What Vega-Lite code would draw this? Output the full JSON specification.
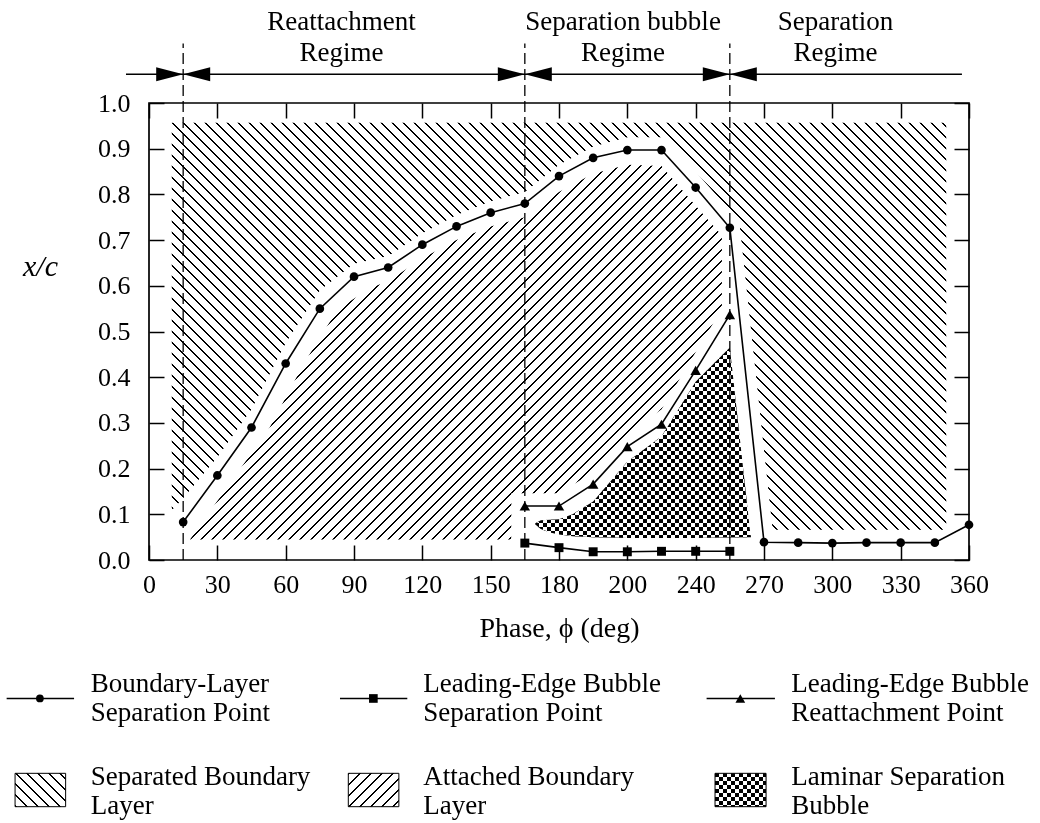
{
"$schema":"https://vega.github.io/schema/vega-lite/v6.json",
"width":820,"height":457,
"autosize":{"type":"none"},
"padding":{"left":149,"top":103,"right":71,"bottom":263},
"background":"white",
"config":{
 "font":"Liberation Serif",
 "view":{"stroke":"#000","strokeWidth":1.7},
 "axis":{"domain":false,"grid":false,"tickSize":-15,"tickWidth":1.5,"tickColor":"#000","labelFont":"Liberation Serif","labelFontSize":26,"labelColor":"#000","labelFlush":false,"labelOverlap":false,"titleFont":"Liberation Serif","titleFontSize":28,"titleFontWeight":"normal","titleColor":"#000"},
 "axisX":{"labelPadding":26},
 "axisY":{"labelPadding":34}
},
"datasets":{
 "sepA":[{"x":10,"lo":0.109,"hi":0.957},{"x":15,"lo":0.135,"hi":0.957},{"x":30,"lo":0.225,"hi":0.957},{"x":45,"lo":0.33,"hi":0.957},{"x":60,"lo":0.475,"hi":0.957},{"x":75,"lo":0.59,"hi":0.957},{"x":90,"lo":0.648,"hi":0.957},{"x":105,"lo":0.665,"hi":0.957},{"x":120,"lo":0.715,"hi":0.957},{"x":135,"lo":0.755,"hi":0.957},{"x":150,"lo":0.785,"hi":0.957},{"x":165,"lo":0.805,"hi":0.957},{"x":180,"lo":0.865,"hi":0.957},{"x":195,"lo":0.905,"hi":0.957},{"x":210,"lo":0.925,"hi":0.957},{"x":225,"lo":0.925,"hi":0.957},{"x":240,"lo":0.85,"hi":0.957},{"x":255,"lo":0.765,"hi":0.957},{"x":259.4,"lo":0.73,"hi":0.957},{"x":273.8,"lo":0.066,"hi":0.957},{"x":350,"lo":0.066,"hi":0.957}],
 "attB":[{"x":18,"lo":0.045,"hi":0.045},{"x":38,"lo":0.045,"hi":0.185},{"x":53,"lo":0.045,"hi":0.29},{"x":68,"lo":0.045,"hi":0.43},{"x":83,"lo":0.045,"hi":0.55},{"x":98,"lo":0.045,"hi":0.597},{"x":105,"lo":0.045,"hi":0.61},{"x":120,"lo":0.045,"hi":0.66},{"x":135,"lo":0.045,"hi":0.7},{"x":150,"lo":0.045,"hi":0.73},{"x":159,"lo":0.045,"hi":0.742},{"x":159.1,"lo":0.146,"hi":0.742},{"x":165,"lo":0.146,"hi":0.75},{"x":180,"lo":0.146,"hi":0.805},{"x":195,"lo":0.192,"hi":0.845},{"x":210,"lo":0.275,"hi":0.865},{"x":225,"lo":0.33,"hi":0.862},{"x":240,"lo":0.455,"hi":0.775},{"x":251.5,"lo":0.55,"hi":0.71}],
 "bub":[{"x":169.5,"lo":0.078,"hi":0.08},{"x":172,"lo":0.068,"hi":0.087},{"x":176,"lo":0.06,"hi":0.088},{"x":180,"lo":0.056,"hi":0.089},{"x":186,"lo":0.052,"hi":0.1},{"x":195,"lo":0.05,"hi":0.128},{"x":210,"lo":0.048,"hi":0.215},{"x":225,"lo":0.048,"hi":0.27},{"x":240,"lo":0.048,"hi":0.39},{"x":255,"lo":0.049,"hi":0.465},{"x":263.8,"lo":0.05,"hi":0.066},{"x":264.3,"lo":0.05,"hi":0.05}],
 "pts":[{"s":"bl","x":15,"y":0.083},{"s":"bl","x":30,"y":0.185},{"s":"bl","x":45,"y":0.29},{"s":"bl","x":60,"y":0.43},{"s":"bl","x":75,"y":0.55},{"s":"bl","x":90,"y":0.62},{"s":"bl","x":105,"y":0.64},{"s":"bl","x":120,"y":0.69},{"s":"bl","x":135,"y":0.73},{"s":"bl","x":150,"y":0.76},{"s":"bl","x":165,"y":0.78},{"s":"bl","x":180,"y":0.84},{"s":"bl","x":195,"y":0.88},{"s":"bl","x":210,"y":0.897},{"s":"bl","x":225,"y":0.897},{"s":"bl","x":240,"y":0.815},{"s":"bl","x":255,"y":0.727},{"s":"bl","x":270,"y":0.039},{"s":"bl","x":285,"y":0.038},{"s":"bl","x":300,"y":0.037},{"s":"bl","x":315,"y":0.038},{"s":"bl","x":330,"y":0.038},{"s":"bl","x":345,"y":0.038},{"s":"bl","x":360,"y":0.077},
  {"s":"les","x":165,"y":0.037},{"s":"les","x":180,"y":0.027},{"s":"les","x":195,"y":0.018},{"s":"les","x":210,"y":0.018},{"s":"les","x":225,"y":0.019},{"s":"les","x":240,"y":0.019},{"s":"les","x":255,"y":0.019},
  {"s":"ler","x":165,"y":0.118},{"s":"ler","x":180,"y":0.118},{"s":"ler","x":195,"y":0.166},{"s":"ler","x":210,"y":0.248},{"s":"ler","x":225,"y":0.297},{"s":"ler","x":240,"y":0.415},{"s":"ler","x":255,"y":0.537}],
 "dash":[{"x":15},{"x":165},{"x":255}],
 "regimes":[{"x":84.5,"y":1.178,"t":"Reattachment\nRegime"},{"x":208.1,"y":1.178,"t":"Separation bubble\nRegime"},{"x":301.4,"y":1.178,"t":"Separation\nRegime"}],
 "legLines":[{"x":-62.5,"x2":-32.9},{"x":83.85,"x2":113.4},{"x":244.8,"x2":274.8}],
 "legPts":[{"s":"bl","x":-47.9},{"s":"les","x":98.5},{"s":"ler","x":259.6}],
 "legText":[{"x":-25.6,"y":-0.2709,"t":"Boundary-Layer\nSeparation Point"},{"x":120.4,"y":-0.2709,"t":"Leading-Edge Bubble\nSeparation Point"},{"x":282,"y":-0.2709,"t":"Leading-Edge Bubble\nReattachment Point"},{"x":-25.6,"y":-0.4759,"t":"Separated Boundary\nLayer"},{"x":120.4,"y":-0.4759,"t":"Attached Boundary\nLayer"},{"x":282,"y":-0.4759,"t":"Laminar Separation\nBubble"}],
 "swA":[{"x":-58.8,"x2":-36.6,"y":-0.4668,"y2":-0.5398}],
 "swB":[{"x":87.5,"x2":109.7,"y":-0.4668,"y2":-0.5398}],
 "swC":[{"x":248.5,"x2":270.9,"y":-0.4668,"y2":-0.5398}]
},
"resolve":{"axis":{"x":"independent","y":"independent"}},
"layer":[
{"data":{"name":"sepA"},
 "mark":{"type":"area","fill":{"gradient":"linear","x1":0,"y1":1,"x2":1.391,"y2":0.2687,"stops":[
{"offset":0,"color":"#fff"},{"offset":0,"color":"#000"},{"offset":0.0014,"color":"#000"},{"offset":0.0014,"color":"#fff"},
{"offset":0.008,"color":"#fff"},{"offset":0.008,"color":"#000"},{"offset":0.0094,"color":"#000"},{"offset":0.0094,"color":"#fff"},
{"offset":0.016,"color":"#fff"},{"offset":0.016,"color":"#000"},{"offset":0.0174,"color":"#000"},{"offset":0.0174,"color":"#fff"},
{"offset":0.024,"color":"#fff"},{"offset":0.024,"color":"#000"},{"offset":0.0254,"color":"#000"},{"offset":0.0254,"color":"#fff"},
{"offset":0.032,"color":"#fff"},{"offset":0.032,"color":"#000"},{"offset":0.0334,"color":"#000"},{"offset":0.0334,"color":"#fff"},
{"offset":0.04,"color":"#fff"},{"offset":0.04,"color":"#000"},{"offset":0.0414,"color":"#000"},{"offset":0.0414,"color":"#fff"},
{"offset":0.048,"color":"#fff"},{"offset":0.048,"color":"#000"},{"offset":0.0494,"color":"#000"},{"offset":0.0494,"color":"#fff"},
{"offset":0.056,"color":"#fff"},{"offset":0.056,"color":"#000"},{"offset":0.0574,"color":"#000"},{"offset":0.0574,"color":"#fff"},
{"offset":0.064,"color":"#fff"},{"offset":0.064,"color":"#000"},{"offset":0.0654,"color":"#000"},{"offset":0.0654,"color":"#fff"},
{"offset":0.072,"color":"#fff"},{"offset":0.072,"color":"#000"},{"offset":0.0734,"color":"#000"},{"offset":0.0734,"color":"#fff"},
{"offset":0.08,"color":"#fff"},{"offset":0.08,"color":"#000"},{"offset":0.0814,"color":"#000"},{"offset":0.0814,"color":"#fff"},
{"offset":0.088,"color":"#fff"},{"offset":0.088,"color":"#000"},{"offset":0.0894,"color":"#000"},{"offset":0.0894,"color":"#fff"},
{"offset":0.096,"color":"#fff"},{"offset":0.096,"color":"#000"},{"offset":0.0974,"color":"#000"},{"offset":0.0974,"color":"#fff"},
{"offset":0.104,"color":"#fff"},{"offset":0.104,"color":"#000"},{"offset":0.1054,"color":"#000"},{"offset":0.1054,"color":"#fff"},
{"offset":0.112,"color":"#fff"},{"offset":0.112,"color":"#000"},{"offset":0.1134,"color":"#000"},{"offset":0.1134,"color":"#fff"},
{"offset":0.12,"color":"#fff"},{"offset":0.12,"color":"#000"},{"offset":0.1214,"color":"#000"},{"offset":0.1214,"color":"#fff"},
{"offset":0.128,"color":"#fff"},{"offset":0.128,"color":"#000"},{"offset":0.1294,"color":"#000"},{"offset":0.1294,"color":"#fff"},
{"offset":0.136,"color":"#fff"},{"offset":0.136,"color":"#000"},{"offset":0.1374,"color":"#000"},{"offset":0.1374,"color":"#fff"},
{"offset":0.144,"color":"#fff"},{"offset":0.144,"color":"#000"},{"offset":0.1454,"color":"#000"},{"offset":0.1454,"color":"#fff"},
{"offset":0.152,"color":"#fff"},{"offset":0.152,"color":"#000"},{"offset":0.1534,"color":"#000"},{"offset":0.1534,"color":"#fff"},
{"offset":0.16,"color":"#fff"},{"offset":0.16,"color":"#000"},{"offset":0.1614,"color":"#000"},{"offset":0.1614,"color":"#fff"},
{"offset":0.168,"color":"#fff"},{"offset":0.168,"color":"#000"},{"offset":0.1694,"color":"#000"},{"offset":0.1694,"color":"#fff"},
{"offset":0.176,"color":"#fff"},{"offset":0.176,"color":"#000"},{"offset":0.1774,"color":"#000"},{"offset":0.1774,"color":"#fff"},
{"offset":0.184,"color":"#fff"},{"offset":0.184,"color":"#000"},{"offset":0.1854,"color":"#000"},{"offset":0.1854,"color":"#fff"},
{"offset":0.192,"color":"#fff"},{"offset":0.192,"color":"#000"},{"offset":0.1934,"color":"#000"},{"offset":0.1934,"color":"#fff"},
{"offset":0.2,"color":"#fff"},{"offset":0.2,"color":"#000"},{"offset":0.2014,"color":"#000"},{"offset":0.2014,"color":"#fff"},
{"offset":0.208,"color":"#fff"},{"offset":0.208,"color":"#000"},{"offset":0.2094,"color":"#000"},{"offset":0.2094,"color":"#fff"},
{"offset":0.216,"color":"#fff"},{"offset":0.216,"color":"#000"},{"offset":0.2174,"color":"#000"},{"offset":0.2174,"color":"#fff"},
{"offset":0.224,"color":"#fff"},{"offset":0.224,"color":"#000"},{"offset":0.2254,"color":"#000"},{"offset":0.2254,"color":"#fff"},
{"offset":0.232,"color":"#fff"},{"offset":0.232,"color":"#000"},{"offset":0.2334,"color":"#000"},{"offset":0.2334,"color":"#fff"},
{"offset":0.24,"color":"#fff"},{"offset":0.24,"color":"#000"},{"offset":0.2414,"color":"#000"},{"offset":0.2414,"color":"#fff"},
{"offset":0.248,"color":"#fff"},{"offset":0.248,"color":"#000"},{"offset":0.2494,"color":"#000"},{"offset":0.2494,"color":"#fff"},
{"offset":0.256,"color":"#fff"},{"offset":0.256,"color":"#000"},{"offset":0.2574,"color":"#000"},{"offset":0.2574,"color":"#fff"},
{"offset":0.264,"color":"#fff"},{"offset":0.264,"color":"#000"},{"offset":0.2654,"color":"#000"},{"offset":0.2654,"color":"#fff"},
{"offset":0.272,"color":"#fff"},{"offset":0.272,"color":"#000"},{"offset":0.2734,"color":"#000"},{"offset":0.2734,"color":"#fff"},
{"offset":0.28,"color":"#fff"},{"offset":0.28,"color":"#000"},{"offset":0.2814,"color":"#000"},{"offset":0.2814,"color":"#fff"},
{"offset":0.288,"color":"#fff"},{"offset":0.288,"color":"#000"},{"offset":0.2894,"color":"#000"},{"offset":0.2894,"color":"#fff"},
{"offset":0.296,"color":"#fff"},{"offset":0.296,"color":"#000"},{"offset":0.2974,"color":"#000"},{"offset":0.2974,"color":"#fff"},
{"offset":0.304,"color":"#fff"},{"offset":0.304,"color":"#000"},{"offset":0.3054,"color":"#000"},{"offset":0.3054,"color":"#fff"},
{"offset":0.312,"color":"#fff"},{"offset":0.312,"color":"#000"},{"offset":0.3134,"color":"#000"},{"offset":0.3134,"color":"#fff"},
{"offset":0.32,"color":"#fff"},{"offset":0.32,"color":"#000"},{"offset":0.3214,"color":"#000"},{"offset":0.3214,"color":"#fff"},
{"offset":0.328,"color":"#fff"},{"offset":0.328,"color":"#000"},{"offset":0.3294,"color":"#000"},{"offset":0.3294,"color":"#fff"},
{"offset":0.336,"color":"#fff"},{"offset":0.336,"color":"#000"},{"offset":0.3374,"color":"#000"},{"offset":0.3374,"color":"#fff"},
{"offset":0.344,"color":"#fff"},{"offset":0.344,"color":"#000"},{"offset":0.3454,"color":"#000"},{"offset":0.3454,"color":"#fff"},
{"offset":0.352,"color":"#fff"},{"offset":0.352,"color":"#000"},{"offset":0.3534,"color":"#000"},{"offset":0.3534,"color":"#fff"},
{"offset":0.36,"color":"#fff"},{"offset":0.36,"color":"#000"},{"offset":0.3614,"color":"#000"},{"offset":0.3614,"color":"#fff"},
{"offset":0.368,"color":"#fff"},{"offset":0.368,"color":"#000"},{"offset":0.3694,"color":"#000"},{"offset":0.3694,"color":"#fff"},
{"offset":0.376,"color":"#fff"},{"offset":0.376,"color":"#000"},{"offset":0.3774,"color":"#000"},{"offset":0.3774,"color":"#fff"},
{"offset":0.384,"color":"#fff"},{"offset":0.384,"color":"#000"},{"offset":0.3854,"color":"#000"},{"offset":0.3854,"color":"#fff"},
{"offset":0.392,"color":"#fff"},{"offset":0.392,"color":"#000"},{"offset":0.3934,"color":"#000"},{"offset":0.3934,"color":"#fff"},
{"offset":0.4,"color":"#fff"},{"offset":0.4,"color":"#000"},{"offset":0.4014,"color":"#000"},{"offset":0.4014,"color":"#fff"},
{"offset":0.408,"color":"#fff"},{"offset":0.408,"color":"#000"},{"offset":0.4094,"color":"#000"},{"offset":0.4094,"color":"#fff"},
{"offset":0.416,"color":"#fff"},{"offset":0.416,"color":"#000"},{"offset":0.4174,"color":"#000"},{"offset":0.4174,"color":"#fff"},
{"offset":0.424,"color":"#fff"},{"offset":0.424,"color":"#000"},{"offset":0.4254,"color":"#000"},{"offset":0.4254,"color":"#fff"},
{"offset":0.432,"color":"#fff"},{"offset":0.432,"color":"#000"},{"offset":0.4334,"color":"#000"},{"offset":0.4334,"color":"#fff"},
{"offset":0.44,"color":"#fff"},{"offset":0.44,"color":"#000"},{"offset":0.4414,"color":"#000"},{"offset":0.4414,"color":"#fff"},
{"offset":0.448,"color":"#fff"},{"offset":0.448,"color":"#000"},{"offset":0.4494,"color":"#000"},{"offset":0.4494,"color":"#fff"},
{"offset":0.456,"color":"#fff"},{"offset":0.456,"color":"#000"},{"offset":0.4574,"color":"#000"},{"offset":0.4574,"color":"#fff"},
{"offset":0.464,"color":"#fff"},{"offset":0.464,"color":"#000"},{"offset":0.4654,"color":"#000"},{"offset":0.4654,"color":"#fff"},
{"offset":0.472,"color":"#fff"},{"offset":0.472,"color":"#000"},{"offset":0.4734,"color":"#000"},{"offset":0.4734,"color":"#fff"},
{"offset":0.48,"color":"#fff"},{"offset":0.48,"color":"#000"},{"offset":0.4814,"color":"#000"},{"offset":0.4814,"color":"#fff"},
{"offset":0.488,"color":"#fff"},{"offset":0.488,"color":"#000"},{"offset":0.4894,"color":"#000"},{"offset":0.4894,"color":"#fff"},
{"offset":0.496,"color":"#fff"},{"offset":0.496,"color":"#000"},{"offset":0.4974,"color":"#000"},{"offset":0.4974,"color":"#fff"},
{"offset":0.504,"color":"#fff"},{"offset":0.504,"color":"#000"},{"offset":0.5054,"color":"#000"},{"offset":0.5054,"color":"#fff"},
{"offset":0.512,"color":"#fff"},{"offset":0.512,"color":"#000"},{"offset":0.5134,"color":"#000"},{"offset":0.5134,"color":"#fff"},
{"offset":0.52,"color":"#fff"},{"offset":0.52,"color":"#000"},{"offset":0.5214,"color":"#000"},{"offset":0.5214,"color":"#fff"},
{"offset":0.528,"color":"#fff"},{"offset":0.528,"color":"#000"},{"offset":0.5294,"color":"#000"},{"offset":0.5294,"color":"#fff"},
{"offset":0.536,"color":"#fff"},{"offset":0.536,"color":"#000"},{"offset":0.5374,"color":"#000"},{"offset":0.5374,"color":"#fff"},
{"offset":0.544,"color":"#fff"},{"offset":0.544,"color":"#000"},{"offset":0.5454,"color":"#000"},{"offset":0.5454,"color":"#fff"},
{"offset":0.552,"color":"#fff"},{"offset":0.552,"color":"#000"},{"offset":0.5534,"color":"#000"},{"offset":0.5534,"color":"#fff"},
{"offset":0.56,"color":"#fff"},{"offset":0.56,"color":"#000"},{"offset":0.5614,"color":"#000"},{"offset":0.5614,"color":"#fff"},
{"offset":0.568,"color":"#fff"},{"offset":0.568,"color":"#000"},{"offset":0.5694,"color":"#000"},{"offset":0.5694,"color":"#fff"},
{"offset":0.576,"color":"#fff"},{"offset":0.576,"color":"#000"},{"offset":0.5774,"color":"#000"},{"offset":0.5774,"color":"#fff"},
{"offset":0.584,"color":"#fff"},{"offset":0.584,"color":"#000"},{"offset":0.5854,"color":"#000"},{"offset":0.5854,"color":"#fff"},
{"offset":0.592,"color":"#fff"},{"offset":0.592,"color":"#000"},{"offset":0.5934,"color":"#000"},{"offset":0.5934,"color":"#fff"},
{"offset":0.6,"color":"#fff"},{"offset":0.6,"color":"#000"},{"offset":0.6014,"color":"#000"},{"offset":0.6014,"color":"#fff"},
{"offset":0.608,"color":"#fff"},{"offset":0.608,"color":"#000"},{"offset":0.6094,"color":"#000"},{"offset":0.6094,"color":"#fff"},
{"offset":0.616,"color":"#fff"},{"offset":0.616,"color":"#000"},{"offset":0.6174,"color":"#000"},{"offset":0.6174,"color":"#fff"},
{"offset":0.624,"color":"#fff"},{"offset":0.624,"color":"#000"},{"offset":0.6254,"color":"#000"},{"offset":0.6254,"color":"#fff"},
{"offset":0.632,"color":"#fff"},{"offset":0.632,"color":"#000"},{"offset":0.6334,"color":"#000"},{"offset":0.6334,"color":"#fff"},
{"offset":0.64,"color":"#fff"},{"offset":0.64,"color":"#000"},{"offset":0.6414,"color":"#000"},{"offset":0.6414,"color":"#fff"},
{"offset":0.648,"color":"#fff"},{"offset":0.648,"color":"#000"},{"offset":0.6494,"color":"#000"},{"offset":0.6494,"color":"#fff"},
{"offset":0.656,"color":"#fff"},{"offset":0.656,"color":"#000"},{"offset":0.6574,"color":"#000"},{"offset":0.6574,"color":"#fff"},
{"offset":0.664,"color":"#fff"},{"offset":0.664,"color":"#000"},{"offset":0.6654,"color":"#000"},{"offset":0.6654,"color":"#fff"},
{"offset":0.672,"color":"#fff"},{"offset":0.672,"color":"#000"},{"offset":0.6734,"color":"#000"},{"offset":0.6734,"color":"#fff"},
{"offset":0.68,"color":"#fff"},{"offset":0.68,"color":"#000"},{"offset":0.6814,"color":"#000"},{"offset":0.6814,"color":"#fff"},
{"offset":0.688,"color":"#fff"},{"offset":0.688,"color":"#000"},{"offset":0.6894,"color":"#000"},{"offset":0.6894,"color":"#fff"},
{"offset":0.696,"color":"#fff"},{"offset":0.696,"color":"#000"},{"offset":0.6974,"color":"#000"},{"offset":0.6974,"color":"#fff"},
{"offset":0.704,"color":"#fff"},{"offset":0.704,"color":"#000"},{"offset":0.7054,"color":"#000"},{"offset":0.7054,"color":"#fff"},
{"offset":0.712,"color":"#fff"},{"offset":0.712,"color":"#000"},{"offset":0.7134,"color":"#000"},{"offset":0.7134,"color":"#fff"},
{"offset":0.72,"color":"#fff"},{"offset":0.72,"color":"#000"},{"offset":0.7214,"color":"#000"},{"offset":0.7214,"color":"#fff"},
{"offset":0.728,"color":"#fff"},{"offset":0.728,"color":"#000"},{"offset":0.7294,"color":"#000"},{"offset":0.7294,"color":"#fff"},
{"offset":0.736,"color":"#fff"},{"offset":0.736,"color":"#000"},{"offset":0.7374,"color":"#000"},{"offset":0.7374,"color":"#fff"},
{"offset":0.744,"color":"#fff"},{"offset":0.744,"color":"#000"},{"offset":0.7454,"color":"#000"},{"offset":0.7454,"color":"#fff"},
{"offset":0.752,"color":"#fff"},{"offset":0.752,"color":"#000"},{"offset":0.7534,"color":"#000"},{"offset":0.7534,"color":"#fff"},
{"offset":0.76,"color":"#fff"},{"offset":0.76,"color":"#000"},{"offset":0.7614,"color":"#000"},{"offset":0.7614,"color":"#fff"},
{"offset":0.768,"color":"#fff"},{"offset":0.768,"color":"#000"},{"offset":0.7694,"color":"#000"},{"offset":0.7694,"color":"#fff"},
{"offset":0.776,"color":"#fff"},{"offset":0.776,"color":"#000"},{"offset":0.7774,"color":"#000"},{"offset":0.7774,"color":"#fff"},
{"offset":0.784,"color":"#fff"},{"offset":0.784,"color":"#000"},{"offset":0.7854,"color":"#000"},{"offset":0.7854,"color":"#fff"},
{"offset":0.792,"color":"#fff"},{"offset":0.792,"color":"#000"},{"offset":0.7934,"color":"#000"},{"offset":0.7934,"color":"#fff"},
{"offset":0.8,"color":"#fff"},{"offset":0.8,"color":"#000"},{"offset":0.8014,"color":"#000"},{"offset":0.8014,"color":"#fff"},
{"offset":0.808,"color":"#fff"},{"offset":0.808,"color":"#000"},{"offset":0.8094,"color":"#000"},{"offset":0.8094,"color":"#fff"},
{"offset":0.816,"color":"#fff"},{"offset":0.816,"color":"#000"},{"offset":0.8174,"color":"#000"},{"offset":0.8174,"color":"#fff"},
{"offset":0.824,"color":"#fff"},{"offset":0.824,"color":"#000"},{"offset":0.8254,"color":"#000"},{"offset":0.8254,"color":"#fff"},
{"offset":0.832,"color":"#fff"},{"offset":0.832,"color":"#000"},{"offset":0.8334,"color":"#000"},{"offset":0.8334,"color":"#fff"},
{"offset":0.84,"color":"#fff"},{"offset":0.84,"color":"#000"},{"offset":0.8414,"color":"#000"},{"offset":0.8414,"color":"#fff"},
{"offset":0.848,"color":"#fff"},{"offset":0.848,"color":"#000"},{"offset":0.8494,"color":"#000"},{"offset":0.8494,"color":"#fff"},
{"offset":0.856,"color":"#fff"},{"offset":0.856,"color":"#000"},{"offset":0.8574,"color":"#000"},{"offset":0.8574,"color":"#fff"}
 ]}},
 "encoding":{
  "x":{"field":"x","type":"quantitative","scale":{"domain":[0,360],"nice":false,"zero":false},
   "axis":{"orient":"bottom","values":[0,30,60,90,120,150,180,210,240,270,300,330,360],"labelExpr":"datum.value == 210 ? '200' : datum.label","title":"Phase, ϕ (deg)","titleY":68,"titleBaseline":"middle"}},
  "y":{"field":"lo","type":"quantitative","scale":{"domain":[0,1],"nice":false,"zero":false},
   "axis":{"orient":"left","values":[0,0.1,0.2,0.3,0.4,0.5,0.6,0.7,0.8,0.9,1],"format":".1f","title":"x/c","titleAngle":0,"titleFontStyle":"italic","titleFontSize":30,"titleX":-109,"titleY":163,"titleAlign":"center","titleBaseline":"middle"}},
  "y2":{"field":"hi"}
 }},
{"data":{"name":"attB"},
 "mark":{"type":"area","fill":{"gradient":"linear","x1":0,"y1":0,"x2":1.3822,"y2":0.9738,"stops":[
{"offset":0,"color":"#fff"},{"offset":0,"color":"#000"},{"offset":0.0017,"color":"#000"},{"offset":0.0017,"color":"#fff"},
{"offset":0.01,"color":"#fff"},{"offset":0.01,"color":"#000"},{"offset":0.0117,"color":"#000"},{"offset":0.0117,"color":"#fff"},
{"offset":0.02,"color":"#fff"},{"offset":0.02,"color":"#000"},{"offset":0.0217,"color":"#000"},{"offset":0.0217,"color":"#fff"},
{"offset":0.03,"color":"#fff"},{"offset":0.03,"color":"#000"},{"offset":0.0317,"color":"#000"},{"offset":0.0317,"color":"#fff"},
{"offset":0.04,"color":"#fff"},{"offset":0.04,"color":"#000"},{"offset":0.0417,"color":"#000"},{"offset":0.0417,"color":"#fff"},
{"offset":0.05,"color":"#fff"},{"offset":0.05,"color":"#000"},{"offset":0.0517,"color":"#000"},{"offset":0.0517,"color":"#fff"},
{"offset":0.06,"color":"#fff"},{"offset":0.06,"color":"#000"},{"offset":0.0617,"color":"#000"},{"offset":0.0617,"color":"#fff"},
{"offset":0.07,"color":"#fff"},{"offset":0.07,"color":"#000"},{"offset":0.0717,"color":"#000"},{"offset":0.0717,"color":"#fff"},
{"offset":0.08,"color":"#fff"},{"offset":0.08,"color":"#000"},{"offset":0.0817,"color":"#000"},{"offset":0.0817,"color":"#fff"},
{"offset":0.09,"color":"#fff"},{"offset":0.09,"color":"#000"},{"offset":0.0917,"color":"#000"},{"offset":0.0917,"color":"#fff"},
{"offset":0.1,"color":"#fff"},{"offset":0.1,"color":"#000"},{"offset":0.1017,"color":"#000"},{"offset":0.1017,"color":"#fff"},
{"offset":0.11,"color":"#fff"},{"offset":0.11,"color":"#000"},{"offset":0.1117,"color":"#000"},{"offset":0.1117,"color":"#fff"},
{"offset":0.12,"color":"#fff"},{"offset":0.12,"color":"#000"},{"offset":0.1217,"color":"#000"},{"offset":0.1217,"color":"#fff"},
{"offset":0.13,"color":"#fff"},{"offset":0.13,"color":"#000"},{"offset":0.1317,"color":"#000"},{"offset":0.1317,"color":"#fff"},
{"offset":0.14,"color":"#fff"},{"offset":0.14,"color":"#000"},{"offset":0.1417,"color":"#000"},{"offset":0.1417,"color":"#fff"},
{"offset":0.15,"color":"#fff"},{"offset":0.15,"color":"#000"},{"offset":0.1517,"color":"#000"},{"offset":0.1517,"color":"#fff"},
{"offset":0.16,"color":"#fff"},{"offset":0.16,"color":"#000"},{"offset":0.1617,"color":"#000"},{"offset":0.1617,"color":"#fff"},
{"offset":0.17,"color":"#fff"},{"offset":0.17,"color":"#000"},{"offset":0.1717,"color":"#000"},{"offset":0.1717,"color":"#fff"},
{"offset":0.18,"color":"#fff"},{"offset":0.18,"color":"#000"},{"offset":0.1817,"color":"#000"},{"offset":0.1817,"color":"#fff"},
{"offset":0.19,"color":"#fff"},{"offset":0.19,"color":"#000"},{"offset":0.1917,"color":"#000"},{"offset":0.1917,"color":"#fff"},
{"offset":0.2,"color":"#fff"},{"offset":0.2,"color":"#000"},{"offset":0.2017,"color":"#000"},{"offset":0.2017,"color":"#fff"},
{"offset":0.21,"color":"#fff"},{"offset":0.21,"color":"#000"},{"offset":0.2117,"color":"#000"},{"offset":0.2117,"color":"#fff"},
{"offset":0.22,"color":"#fff"},{"offset":0.22,"color":"#000"},{"offset":0.2217,"color":"#000"},{"offset":0.2217,"color":"#fff"},
{"offset":0.23,"color":"#fff"},{"offset":0.23,"color":"#000"},{"offset":0.2317,"color":"#000"},{"offset":0.2317,"color":"#fff"},
{"offset":0.24,"color":"#fff"},{"offset":0.24,"color":"#000"},{"offset":0.2417,"color":"#000"},{"offset":0.2417,"color":"#fff"},
{"offset":0.25,"color":"#fff"},{"offset":0.25,"color":"#000"},{"offset":0.2517,"color":"#000"},{"offset":0.2517,"color":"#fff"},
{"offset":0.26,"color":"#fff"},{"offset":0.26,"color":"#000"},{"offset":0.2617,"color":"#000"},{"offset":0.2617,"color":"#fff"},
{"offset":0.27,"color":"#fff"},{"offset":0.27,"color":"#000"},{"offset":0.2717,"color":"#000"},{"offset":0.2717,"color":"#fff"},
{"offset":0.28,"color":"#fff"},{"offset":0.28,"color":"#000"},{"offset":0.2817,"color":"#000"},{"offset":0.2817,"color":"#fff"},
{"offset":0.29,"color":"#fff"},{"offset":0.29,"color":"#000"},{"offset":0.2917,"color":"#000"},{"offset":0.2917,"color":"#fff"},
{"offset":0.3,"color":"#fff"},{"offset":0.3,"color":"#000"},{"offset":0.3017,"color":"#000"},{"offset":0.3017,"color":"#fff"},
{"offset":0.31,"color":"#fff"},{"offset":0.31,"color":"#000"},{"offset":0.3117,"color":"#000"},{"offset":0.3117,"color":"#fff"},
{"offset":0.32,"color":"#fff"},{"offset":0.32,"color":"#000"},{"offset":0.3217,"color":"#000"},{"offset":0.3217,"color":"#fff"},
{"offset":0.33,"color":"#fff"},{"offset":0.33,"color":"#000"},{"offset":0.3317,"color":"#000"},{"offset":0.3317,"color":"#fff"},
{"offset":0.34,"color":"#fff"},{"offset":0.34,"color":"#000"},{"offset":0.3417,"color":"#000"},{"offset":0.3417,"color":"#fff"},
{"offset":0.35,"color":"#fff"},{"offset":0.35,"color":"#000"},{"offset":0.3517,"color":"#000"},{"offset":0.3517,"color":"#fff"},
{"offset":0.36,"color":"#fff"},{"offset":0.36,"color":"#000"},{"offset":0.3617,"color":"#000"},{"offset":0.3617,"color":"#fff"},
{"offset":0.37,"color":"#fff"},{"offset":0.37,"color":"#000"},{"offset":0.3717,"color":"#000"},{"offset":0.3717,"color":"#fff"},
{"offset":0.38,"color":"#fff"},{"offset":0.38,"color":"#000"},{"offset":0.3817,"color":"#000"},{"offset":0.3817,"color":"#fff"},
{"offset":0.39,"color":"#fff"},{"offset":0.39,"color":"#000"},{"offset":0.3917,"color":"#000"},{"offset":0.3917,"color":"#fff"},
{"offset":0.4,"color":"#fff"},{"offset":0.4,"color":"#000"},{"offset":0.4017,"color":"#000"},{"offset":0.4017,"color":"#fff"},
{"offset":0.41,"color":"#fff"},{"offset":0.41,"color":"#000"},{"offset":0.4117,"color":"#000"},{"offset":0.4117,"color":"#fff"},
{"offset":0.42,"color":"#fff"},{"offset":0.42,"color":"#000"},{"offset":0.4217,"color":"#000"},{"offset":0.4217,"color":"#fff"},
{"offset":0.43,"color":"#fff"},{"offset":0.43,"color":"#000"},{"offset":0.4317,"color":"#000"},{"offset":0.4317,"color":"#fff"},
{"offset":0.44,"color":"#fff"},{"offset":0.44,"color":"#000"},{"offset":0.4417,"color":"#000"},{"offset":0.4417,"color":"#fff"},
{"offset":0.45,"color":"#fff"},{"offset":0.45,"color":"#000"},{"offset":0.4517,"color":"#000"},{"offset":0.4517,"color":"#fff"},
{"offset":0.46,"color":"#fff"},{"offset":0.46,"color":"#000"},{"offset":0.4617,"color":"#000"},{"offset":0.4617,"color":"#fff"},
{"offset":0.47,"color":"#fff"},{"offset":0.47,"color":"#000"},{"offset":0.4717,"color":"#000"},{"offset":0.4717,"color":"#fff"},
{"offset":0.48,"color":"#fff"},{"offset":0.48,"color":"#000"},{"offset":0.4817,"color":"#000"},{"offset":0.4817,"color":"#fff"},
{"offset":0.49,"color":"#fff"},{"offset":0.49,"color":"#000"},{"offset":0.4917,"color":"#000"},{"offset":0.4917,"color":"#fff"},
{"offset":0.5,"color":"#fff"},{"offset":0.5,"color":"#000"},{"offset":0.5017,"color":"#000"},{"offset":0.5017,"color":"#fff"},
{"offset":0.51,"color":"#fff"},{"offset":0.51,"color":"#000"},{"offset":0.5117,"color":"#000"},{"offset":0.5117,"color":"#fff"},
{"offset":0.52,"color":"#fff"},{"offset":0.52,"color":"#000"},{"offset":0.5217,"color":"#000"},{"offset":0.5217,"color":"#fff"},
{"offset":0.53,"color":"#fff"},{"offset":0.53,"color":"#000"},{"offset":0.5317,"color":"#000"},{"offset":0.5317,"color":"#fff"},
{"offset":0.54,"color":"#fff"},{"offset":0.54,"color":"#000"},{"offset":0.5417,"color":"#000"},{"offset":0.5417,"color":"#fff"},
{"offset":0.55,"color":"#fff"},{"offset":0.55,"color":"#000"},{"offset":0.5517,"color":"#000"},{"offset":0.5517,"color":"#fff"},
{"offset":0.56,"color":"#fff"},{"offset":0.56,"color":"#000"},{"offset":0.5617,"color":"#000"},{"offset":0.5617,"color":"#fff"},
{"offset":0.57,"color":"#fff"},{"offset":0.57,"color":"#000"},{"offset":0.5717,"color":"#000"},{"offset":0.5717,"color":"#fff"},
{"offset":0.58,"color":"#fff"},{"offset":0.58,"color":"#000"},{"offset":0.5817,"color":"#000"},{"offset":0.5817,"color":"#fff"},
{"offset":0.59,"color":"#fff"},{"offset":0.59,"color":"#000"},{"offset":0.5917,"color":"#000"},{"offset":0.5917,"color":"#fff"},
{"offset":0.6,"color":"#fff"},{"offset":0.6,"color":"#000"},{"offset":0.6017,"color":"#000"},{"offset":0.6017,"color":"#fff"},
{"offset":0.61,"color":"#fff"},{"offset":0.61,"color":"#000"},{"offset":0.6117,"color":"#000"},{"offset":0.6117,"color":"#fff"},
{"offset":0.62,"color":"#fff"},{"offset":0.62,"color":"#000"},{"offset":0.6217,"color":"#000"},{"offset":0.6217,"color":"#fff"},
{"offset":0.63,"color":"#fff"},{"offset":0.63,"color":"#000"},{"offset":0.6317,"color":"#000"},{"offset":0.6317,"color":"#fff"},
{"offset":0.64,"color":"#fff"},{"offset":0.64,"color":"#000"},{"offset":0.6417,"color":"#000"},{"offset":0.6417,"color":"#fff"},
{"offset":0.65,"color":"#fff"},{"offset":0.65,"color":"#000"},{"offset":0.6517,"color":"#000"},{"offset":0.6517,"color":"#fff"},
{"offset":0.66,"color":"#fff"},{"offset":0.66,"color":"#000"},{"offset":0.6617,"color":"#000"},{"offset":0.6617,"color":"#fff"},
{"offset":0.67,"color":"#fff"},{"offset":0.67,"color":"#000"},{"offset":0.6717,"color":"#000"},{"offset":0.6717,"color":"#fff"},
{"offset":0.68,"color":"#fff"},{"offset":0.68,"color":"#000"},{"offset":0.6817,"color":"#000"},{"offset":0.6817,"color":"#fff"},
{"offset":0.69,"color":"#fff"},{"offset":0.69,"color":"#000"},{"offset":0.6917,"color":"#000"},{"offset":0.6917,"color":"#fff"},
{"offset":0.7,"color":"#fff"},{"offset":0.7,"color":"#000"},{"offset":0.7017,"color":"#000"},{"offset":0.7017,"color":"#fff"},
{"offset":0.71,"color":"#fff"},{"offset":0.71,"color":"#000"},{"offset":0.7117,"color":"#000"},{"offset":0.7117,"color":"#fff"},
{"offset":0.72,"color":"#fff"},{"offset":0.72,"color":"#000"},{"offset":0.7217,"color":"#000"},{"offset":0.7217,"color":"#fff"},
{"offset":0.73,"color":"#fff"},{"offset":0.73,"color":"#000"},{"offset":0.7317,"color":"#000"},{"offset":0.7317,"color":"#fff"},
{"offset":0.74,"color":"#fff"},{"offset":0.74,"color":"#000"},{"offset":0.7417,"color":"#000"},{"offset":0.7417,"color":"#fff"},
{"offset":0.75,"color":"#fff"},{"offset":0.75,"color":"#000"},{"offset":0.7517,"color":"#000"},{"offset":0.7517,"color":"#fff"},
{"offset":0.76,"color":"#fff"},{"offset":0.76,"color":"#000"},{"offset":0.7617,"color":"#000"},{"offset":0.7617,"color":"#fff"},
{"offset":0.77,"color":"#fff"},{"offset":0.77,"color":"#000"},{"offset":0.7717,"color":"#000"},{"offset":0.7717,"color":"#fff"},
{"offset":0.78,"color":"#fff"},{"offset":0.78,"color":"#000"},{"offset":0.7817,"color":"#000"},{"offset":0.7817,"color":"#fff"},
{"offset":0.79,"color":"#fff"},{"offset":0.79,"color":"#000"},{"offset":0.7917,"color":"#000"},{"offset":0.7917,"color":"#fff"},
{"offset":0.8,"color":"#fff"},{"offset":0.8,"color":"#000"},{"offset":0.8017,"color":"#000"},{"offset":0.8017,"color":"#fff"},
{"offset":0.81,"color":"#fff"},{"offset":0.81,"color":"#000"},{"offset":0.8117,"color":"#000"},{"offset":0.8117,"color":"#fff"},
{"offset":0.82,"color":"#fff"},{"offset":0.82,"color":"#000"},{"offset":0.8217,"color":"#000"},{"offset":0.8217,"color":"#fff"}
 ]}},
 "encoding":{
  "x":{"field":"x","type":"quantitative","scale":{"domain":[0,360],"nice":false,"zero":false},"axis":null},
  "y":{"field":"lo","type":"quantitative","scale":{"domain":[0,1],"nice":false,"zero":false},"axis":null},
  "y2":{"field":"hi"}
 }},
{"data":{"name":"bub"},
 "mark":{"type":"area","fill":{"gradient":"linear","x1":0,"y1":0,"x2":1.482,"y2":0,"stops":[
{"offset":0,"color":"#000"},{"offset":0.0125,"color":"#000"},{"offset":0.0125,"color":"#fff"},{"offset":0.025,"color":"#fff"},
{"offset":0.025,"color":"#000"},{"offset":0.0375,"color":"#000"},{"offset":0.0375,"color":"#fff"},{"offset":0.05,"color":"#fff"},
{"offset":0.05,"color":"#000"},{"offset":0.0625,"color":"#000"},{"offset":0.0625,"color":"#fff"},{"offset":0.075,"color":"#fff"},
{"offset":0.075,"color":"#000"},{"offset":0.0875,"color":"#000"},{"offset":0.0875,"color":"#fff"},{"offset":0.1,"color":"#fff"},
{"offset":0.1,"color":"#000"},{"offset":0.1125,"color":"#000"},{"offset":0.1125,"color":"#fff"},{"offset":0.125,"color":"#fff"},
{"offset":0.125,"color":"#000"},{"offset":0.1375,"color":"#000"},{"offset":0.1375,"color":"#fff"},{"offset":0.15,"color":"#fff"},
{"offset":0.15,"color":"#000"},{"offset":0.1625,"color":"#000"},{"offset":0.1625,"color":"#fff"},{"offset":0.175,"color":"#fff"},
{"offset":0.175,"color":"#000"},{"offset":0.1875,"color":"#000"},{"offset":0.1875,"color":"#fff"},{"offset":0.2,"color":"#fff"},
{"offset":0.2,"color":"#000"},{"offset":0.2125,"color":"#000"},{"offset":0.2125,"color":"#fff"},{"offset":0.225,"color":"#fff"},
{"offset":0.225,"color":"#000"},{"offset":0.2375,"color":"#000"},{"offset":0.2375,"color":"#fff"},{"offset":0.25,"color":"#fff"},
{"offset":0.25,"color":"#000"},{"offset":0.2625,"color":"#000"},{"offset":0.2625,"color":"#fff"},{"offset":0.275,"color":"#fff"},
{"offset":0.275,"color":"#000"},{"offset":0.2875,"color":"#000"},{"offset":0.2875,"color":"#fff"},{"offset":0.3,"color":"#fff"},
{"offset":0.3,"color":"#000"},{"offset":0.3125,"color":"#000"},{"offset":0.3125,"color":"#fff"},{"offset":0.325,"color":"#fff"},
{"offset":0.325,"color":"#000"},{"offset":0.3375,"color":"#000"},{"offset":0.3375,"color":"#fff"},{"offset":0.35,"color":"#fff"},
{"offset":0.35,"color":"#000"},{"offset":0.3625,"color":"#000"},{"offset":0.3625,"color":"#fff"},{"offset":0.375,"color":"#fff"},
{"offset":0.375,"color":"#000"},{"offset":0.3875,"color":"#000"},{"offset":0.3875,"color":"#fff"},{"offset":0.4,"color":"#fff"},
{"offset":0.4,"color":"#000"},{"offset":0.4125,"color":"#000"},{"offset":0.4125,"color":"#fff"},{"offset":0.425,"color":"#fff"},
{"offset":0.425,"color":"#000"},{"offset":0.4375,"color":"#000"},{"offset":0.4375,"color":"#fff"},{"offset":0.45,"color":"#fff"},
{"offset":0.45,"color":"#000"},{"offset":0.4625,"color":"#000"},{"offset":0.4625,"color":"#fff"},{"offset":0.475,"color":"#fff"},
{"offset":0.475,"color":"#000"},{"offset":0.4875,"color":"#000"},{"offset":0.4875,"color":"#fff"},{"offset":0.5,"color":"#fff"},
{"offset":0.5,"color":"#000"},{"offset":0.5125,"color":"#000"},{"offset":0.5125,"color":"#fff"},{"offset":0.525,"color":"#fff"},
{"offset":0.525,"color":"#000"},{"offset":0.5375,"color":"#000"},{"offset":0.5375,"color":"#fff"},{"offset":0.55,"color":"#fff"},
{"offset":0.55,"color":"#000"},{"offset":0.5625,"color":"#000"},{"offset":0.5625,"color":"#fff"},{"offset":0.575,"color":"#fff"},
{"offset":0.575,"color":"#000"},{"offset":0.5875,"color":"#000"},{"offset":0.5875,"color":"#fff"},{"offset":0.6,"color":"#fff"},
{"offset":0.6,"color":"#000"},{"offset":0.6125,"color":"#000"},{"offset":0.6125,"color":"#fff"},{"offset":0.625,"color":"#fff"},
{"offset":0.625,"color":"#000"},{"offset":0.6375,"color":"#000"},{"offset":0.6375,"color":"#fff"},{"offset":0.65,"color":"#fff"},
{"offset":0.65,"color":"#000"},{"offset":0.6625,"color":"#000"},{"offset":0.6625,"color":"#fff"},{"offset":0.675,"color":"#fff"}
 ]}},
 "encoding":{
  "x":{"field":"x","type":"quantitative","scale":{"domain":[0,360],"nice":false,"zero":false},"axis":null},
  "y":{"field":"lo","type":"quantitative","scale":{"domain":[0,1],"nice":false,"zero":false},"axis":null},
  "y2":{"field":"hi"}
 }},
{"data":{"name":"bub"},
 "mark":{"type":"area","blend":"difference","fill":{"gradient":"linear","x1":0,"y1":0,"x2":0,"y2":1.6792,"stops":[
{"offset":0,"color":"#000"},{"offset":0.0125,"color":"#000"},{"offset":0.0125,"color":"#fff"},{"offset":0.025,"color":"#fff"},
{"offset":0.025,"color":"#000"},{"offset":0.0375,"color":"#000"},{"offset":0.0375,"color":"#fff"},{"offset":0.05,"color":"#fff"},
{"offset":0.05,"color":"#000"},{"offset":0.0625,"color":"#000"},{"offset":0.0625,"color":"#fff"},{"offset":0.075,"color":"#fff"},
{"offset":0.075,"color":"#000"},{"offset":0.0875,"color":"#000"},{"offset":0.0875,"color":"#fff"},{"offset":0.1,"color":"#fff"},
{"offset":0.1,"color":"#000"},{"offset":0.1125,"color":"#000"},{"offset":0.1125,"color":"#fff"},{"offset":0.125,"color":"#fff"},
{"offset":0.125,"color":"#000"},{"offset":0.1375,"color":"#000"},{"offset":0.1375,"color":"#fff"},{"offset":0.15,"color":"#fff"},
{"offset":0.15,"color":"#000"},{"offset":0.1625,"color":"#000"},{"offset":0.1625,"color":"#fff"},{"offset":0.175,"color":"#fff"},
{"offset":0.175,"color":"#000"},{"offset":0.1875,"color":"#000"},{"offset":0.1875,"color":"#fff"},{"offset":0.2,"color":"#fff"},
{"offset":0.2,"color":"#000"},{"offset":0.2125,"color":"#000"},{"offset":0.2125,"color":"#fff"},{"offset":0.225,"color":"#fff"},
{"offset":0.225,"color":"#000"},{"offset":0.2375,"color":"#000"},{"offset":0.2375,"color":"#fff"},{"offset":0.25,"color":"#fff"},
{"offset":0.25,"color":"#000"},{"offset":0.2625,"color":"#000"},{"offset":0.2625,"color":"#fff"},{"offset":0.275,"color":"#fff"},
{"offset":0.275,"color":"#000"},{"offset":0.2875,"color":"#000"},{"offset":0.2875,"color":"#fff"},{"offset":0.3,"color":"#fff"},
{"offset":0.3,"color":"#000"},{"offset":0.3125,"color":"#000"},{"offset":0.3125,"color":"#fff"},{"offset":0.325,"color":"#fff"},
{"offset":0.325,"color":"#000"},{"offset":0.3375,"color":"#000"},{"offset":0.3375,"color":"#fff"},{"offset":0.35,"color":"#fff"},
{"offset":0.35,"color":"#000"},{"offset":0.3625,"color":"#000"},{"offset":0.3625,"color":"#fff"},{"offset":0.375,"color":"#fff"},
{"offset":0.375,"color":"#000"},{"offset":0.3875,"color":"#000"},{"offset":0.3875,"color":"#fff"},{"offset":0.4,"color":"#fff"},
{"offset":0.4,"color":"#000"},{"offset":0.4125,"color":"#000"},{"offset":0.4125,"color":"#fff"},{"offset":0.425,"color":"#fff"},
{"offset":0.425,"color":"#000"},{"offset":0.4375,"color":"#000"},{"offset":0.4375,"color":"#fff"},{"offset":0.45,"color":"#fff"},
{"offset":0.45,"color":"#000"},{"offset":0.4625,"color":"#000"},{"offset":0.4625,"color":"#fff"},{"offset":0.475,"color":"#fff"},
{"offset":0.475,"color":"#000"},{"offset":0.4875,"color":"#000"},{"offset":0.4875,"color":"#fff"},{"offset":0.5,"color":"#fff"},
{"offset":0.5,"color":"#000"},{"offset":0.5125,"color":"#000"},{"offset":0.5125,"color":"#fff"},{"offset":0.525,"color":"#fff"},
{"offset":0.525,"color":"#000"},{"offset":0.5375,"color":"#000"},{"offset":0.5375,"color":"#fff"},{"offset":0.55,"color":"#fff"},
{"offset":0.55,"color":"#000"},{"offset":0.5625,"color":"#000"},{"offset":0.5625,"color":"#fff"},{"offset":0.575,"color":"#fff"},
{"offset":0.575,"color":"#000"},{"offset":0.5875,"color":"#000"},{"offset":0.5875,"color":"#fff"},{"offset":0.6,"color":"#fff"}
 ]}},
 "encoding":{
  "x":{"field":"x","type":"quantitative","scale":{"domain":[0,360],"nice":false,"zero":false},"axis":null},
  "y":{"field":"lo","type":"quantitative","scale":{"domain":[0,1],"nice":false,"zero":false},"axis":null},
  "y2":{"field":"hi"}
 }},
{"data":{"name":"dash"},
 "mark":{"type":"rule","color":"#000","strokeWidth":1.3,"strokeDash":[11,5]},
 "encoding":{
  "x":{"field":"x","type":"quantitative","scale":{"domain":[0,360],"nice":false,"zero":false},"axis":null},
  "y":{"datum":0,"scale":{"domain":[0,1],"nice":false,"zero":false},"axis":null},
  "y2":{"datum":1.13}
 }},
{"data":{"name":"pts"},
 "mark":{"type":"line","color":"#000","strokeWidth":1.6},
 "encoding":{
  "x":{"field":"x","type":"quantitative","scale":{"domain":[0,360],"nice":false,"zero":false},
   "axis":{"orient":"top","values":[0,30,60,90,120,150,180,210,240,270,300,330,360],"labels":false,"title":null}},
  "y":{"field":"y","type":"quantitative","scale":{"domain":[0,1],"nice":false,"zero":false},
   "axis":{"orient":"right","values":[0,0.1,0.2,0.3,0.4,0.5,0.6,0.7,0.8,0.9,1],"labels":false,"title":null}},
  "detail":{"field":"s","type":"nominal"}
 }},
{"data":{"name":"pts"},
 "transform":[{"filter":"datum.s == 'bl'"}],
 "mark":{"type":"point","shape":"circle","filled":true,"color":"#000","opacity":1,"size":75},
 "encoding":{
  "x":{"field":"x","type":"quantitative","scale":{"domain":[0,360],"nice":false,"zero":false},"axis":null},
  "y":{"field":"y","type":"quantitative","scale":{"domain":[0,1],"nice":false,"zero":false},"axis":null}
 }},
{"data":{"name":"pts"},
 "transform":[{"filter":"datum.s == 'les'"}],
 "mark":{"type":"point","shape":"square","filled":true,"color":"#000","opacity":1,"size":80},
 "encoding":{
  "x":{"field":"x","type":"quantitative","scale":{"domain":[0,360],"nice":false,"zero":false},"axis":null},
  "y":{"field":"y","type":"quantitative","scale":{"domain":[0,1],"nice":false,"zero":false},"axis":null}
 }},
{"data":{"name":"pts"},
 "transform":[{"filter":"datum.s == 'ler'"}],
 "mark":{"type":"point","shape":"triangle-up","filled":true,"color":"#000","opacity":1,"size":110},
 "encoding":{
  "x":{"field":"x","type":"quantitative","scale":{"domain":[0,360],"nice":false,"zero":false},"axis":null},
  "y":{"field":"y","type":"quantitative","scale":{"domain":[0,1],"nice":false,"zero":false},"axis":null}
 }},
{"data":{"values":[{}]},
 "mark":{"type":"rule","color":"#000","strokeWidth":1.5},
 "encoding":{
  "x":{"datum":-10.1,"scale":{"domain":[0,360],"nice":false,"zero":false},"axis":null},
  "x2":{"datum":356.9},
  "y":{"datum":1.0628,"scale":{"domain":[0,1],"nice":false,"zero":false},"axis":null}
 }},
{"data":{"name":"dash"},
 "mark":{"type":"point","shape":"M-2,-0.52L0,0L-2,0.52Z","filled":true,"color":"#000","opacity":1,"size":729,"strokeWidth":0},
 "encoding":{
  "x":{"field":"x","type":"quantitative","scale":{"domain":[0,360],"nice":false,"zero":false},"axis":null},
  "y":{"datum":1.0628,"scale":{"domain":[0,1],"nice":false,"zero":false},"axis":null}
 }},
{"data":{"name":"dash"},
 "mark":{"type":"point","shape":"M2,-0.52L0,0L2,0.52Z","filled":true,"color":"#000","opacity":1,"size":729,"strokeWidth":0},
 "encoding":{
  "x":{"field":"x","type":"quantitative","scale":{"domain":[0,360],"nice":false,"zero":false},"axis":null},
  "y":{"datum":1.0628,"scale":{"domain":[0,1],"nice":false,"zero":false},"axis":null}
 }},
{"data":{"name":"regimes"},
 "mark":{"type":"text","font":"Liberation Serif","fontSize":27,"color":"#000","align":"center","baseline":"middle","lineBreak":"\n","lineHeight":31},
 "encoding":{
  "x":{"field":"x","type":"quantitative","scale":{"domain":[0,360],"nice":false,"zero":false},"axis":null},
  "y":{"field":"y","type":"quantitative","scale":{"domain":[0,1],"nice":false,"zero":false},"axis":null},
  "text":{"field":"t"}
 }},
{"data":{"name":"legLines"},
 "mark":{"type":"rule","color":"#000","strokeWidth":1.5},
 "encoding":{
  "x":{"field":"x","type":"quantitative","scale":{"domain":[0,360],"nice":false,"zero":false},"axis":null},
  "x2":{"field":"x2"},
  "y":{"datum":-0.303,"scale":{"domain":[0,1],"nice":false,"zero":false},"axis":null}
 }},
{"data":{"name":"legPts"},
 "transform":[{"filter":"datum.s == 'bl'"}],
 "mark":{"type":"point","shape":"circle","filled":true,"color":"#000","opacity":1,"size":60},
 "encoding":{
  "x":{"field":"x","type":"quantitative","scale":{"domain":[0,360],"nice":false,"zero":false},"axis":null},
  "y":{"datum":-0.303,"scale":{"domain":[0,1],"nice":false,"zero":false},"axis":null}
 }},
{"data":{"name":"legPts"},
 "transform":[{"filter":"datum.s == 'les'"}],
 "mark":{"type":"point","shape":"square","filled":true,"color":"#000","opacity":1,"size":75},
 "encoding":{
  "x":{"field":"x","type":"quantitative","scale":{"domain":[0,360],"nice":false,"zero":false},"axis":null},
  "y":{"datum":-0.303,"scale":{"domain":[0,1],"nice":false,"zero":false},"axis":null}
 }},
{"data":{"name":"legPts"},
 "transform":[{"filter":"datum.s == 'ler'"}],
 "mark":{"type":"point","shape":"triangle-up","filled":true,"color":"#000","opacity":1,"size":95},
 "encoding":{
  "x":{"field":"x","type":"quantitative","scale":{"domain":[0,360],"nice":false,"zero":false},"axis":null},
  "y":{"datum":-0.303,"scale":{"domain":[0,1],"nice":false,"zero":false},"axis":null}
 }},
{"data":{"name":"swA"},
 "mark":{"type":"rect","stroke":"#000","strokeWidth":1,"fill":{"gradient":"linear","x1":0,"y1":1,"x2":1.5156,"y2":0,"stops":[
{"offset":0,"color":"#fff"},{"offset":0,"color":"#000"},{"offset":0.0167,"color":"#000"},{"offset":0.0167,"color":"#fff"},
{"offset":0.1,"color":"#fff"},{"offset":0.1,"color":"#000"},{"offset":0.1167,"color":"#000"},{"offset":0.1167,"color":"#fff"},
{"offset":0.2,"color":"#fff"},{"offset":0.2,"color":"#000"},{"offset":0.2167,"color":"#000"},{"offset":0.2167,"color":"#fff"},
{"offset":0.3,"color":"#fff"},{"offset":0.3,"color":"#000"},{"offset":0.3167,"color":"#000"},{"offset":0.3167,"color":"#fff"},
{"offset":0.4,"color":"#fff"},{"offset":0.4,"color":"#000"},{"offset":0.4167,"color":"#000"},{"offset":0.4167,"color":"#fff"},
{"offset":0.5,"color":"#fff"},{"offset":0.5,"color":"#000"},{"offset":0.5167,"color":"#000"},{"offset":0.5167,"color":"#fff"},
{"offset":0.6,"color":"#fff"},{"offset":0.6,"color":"#000"},{"offset":0.6167,"color":"#000"},{"offset":0.6167,"color":"#fff"},
{"offset":0.7,"color":"#fff"},{"offset":0.7,"color":"#000"},{"offset":0.7167,"color":"#000"},{"offset":0.7167,"color":"#fff"}
 ]}},
 "encoding":{
  "x":{"field":"x","type":"quantitative","scale":{"domain":[0,360],"nice":false,"zero":false},"axis":null},
  "x2":{"field":"x2"},
  "y":{"field":"y","type":"quantitative","scale":{"domain":[0,1],"nice":false,"zero":false},"axis":null},
  "y2":{"field":"y2"}
 }},
{"data":{"name":"swB"},
 "mark":{"type":"rect","stroke":"#000","strokeWidth":1,"fill":{"gradient":"linear","x1":0,"y1":0,"x2":1.5156,"y2":1,"stops":[
{"offset":0,"color":"#fff"},{"offset":0,"color":"#000"},{"offset":0.0167,"color":"#000"},{"offset":0.0167,"color":"#fff"},
{"offset":0.1,"color":"#fff"},{"offset":0.1,"color":"#000"},{"offset":0.1167,"color":"#000"},{"offset":0.1167,"color":"#fff"},
{"offset":0.2,"color":"#fff"},{"offset":0.2,"color":"#000"},{"offset":0.2167,"color":"#000"},{"offset":0.2167,"color":"#fff"},
{"offset":0.3,"color":"#fff"},{"offset":0.3,"color":"#000"},{"offset":0.3167,"color":"#000"},{"offset":0.3167,"color":"#fff"},
{"offset":0.4,"color":"#fff"},{"offset":0.4,"color":"#000"},{"offset":0.4167,"color":"#000"},{"offset":0.4167,"color":"#fff"},
{"offset":0.5,"color":"#fff"},{"offset":0.5,"color":"#000"},{"offset":0.5167,"color":"#000"},{"offset":0.5167,"color":"#fff"},
{"offset":0.6,"color":"#fff"},{"offset":0.6,"color":"#000"},{"offset":0.6167,"color":"#000"},{"offset":0.6167,"color":"#fff"},
{"offset":0.7,"color":"#fff"},{"offset":0.7,"color":"#000"},{"offset":0.7167,"color":"#000"},{"offset":0.7167,"color":"#fff"}
 ]}},
 "encoding":{
  "x":{"field":"x","type":"quantitative","scale":{"domain":[0,360],"nice":false,"zero":false},"axis":null},
  "x2":{"field":"x2"},
  "y":{"field":"y","type":"quantitative","scale":{"domain":[0,1],"nice":false,"zero":false},"axis":null},
  "y2":{"field":"y2"}
 }},
{"data":{"name":"swC"},
 "mark":{"type":"rect","fill":{"gradient":"linear","x1":0,"y1":0,"x2":1.568,"y2":0,"stops":[
{"offset":0,"color":"#000"},{"offset":0.05,"color":"#000"},{"offset":0.05,"color":"#fff"},{"offset":0.1,"color":"#fff"},
{"offset":0.1,"color":"#000"},{"offset":0.15,"color":"#000"},{"offset":0.15,"color":"#fff"},{"offset":0.2,"color":"#fff"},
{"offset":0.2,"color":"#000"},{"offset":0.25,"color":"#000"},{"offset":0.25,"color":"#fff"},{"offset":0.3,"color":"#fff"},
{"offset":0.3,"color":"#000"},{"offset":0.35,"color":"#000"},{"offset":0.35,"color":"#fff"},{"offset":0.4,"color":"#fff"},
{"offset":0.4,"color":"#000"},{"offset":0.45,"color":"#000"},{"offset":0.45,"color":"#fff"},{"offset":0.5,"color":"#fff"},
{"offset":0.5,"color":"#000"},{"offset":0.55,"color":"#000"},{"offset":0.55,"color":"#fff"},{"offset":0.6,"color":"#fff"},
{"offset":0.6,"color":"#000"},{"offset":0.65,"color":"#000"},{"offset":0.65,"color":"#fff"},{"offset":0.7,"color":"#fff"}
 ]}},
 "encoding":{
  "x":{"field":"x","type":"quantitative","scale":{"domain":[0,360],"nice":false,"zero":false},"axis":null},
  "x2":{"field":"x2"},
  "y":{"field":"y","type":"quantitative","scale":{"domain":[0,1],"nice":false,"zero":false},"axis":null},
  "y2":{"field":"y2"}
 }},
{"data":{"name":"swC"},
 "mark":{"type":"rect","blend":"difference","fill":{"gradient":"linear","x1":0,"y1":0,"x2":0,"y2":2.398,"stops":[
{"offset":0,"color":"#000"},{"offset":0.05,"color":"#000"},{"offset":0.05,"color":"#fff"},{"offset":0.1,"color":"#fff"},
{"offset":0.1,"color":"#000"},{"offset":0.15,"color":"#000"},{"offset":0.15,"color":"#fff"},{"offset":0.2,"color":"#fff"},
{"offset":0.2,"color":"#000"},{"offset":0.25,"color":"#000"},{"offset":0.25,"color":"#fff"},{"offset":0.3,"color":"#fff"},
{"offset":0.3,"color":"#000"},{"offset":0.35,"color":"#000"},{"offset":0.35,"color":"#fff"},{"offset":0.4,"color":"#fff"},
{"offset":0.4,"color":"#000"},{"offset":0.45,"color":"#000"},{"offset":0.45,"color":"#fff"},{"offset":0.5,"color":"#fff"}
 ]}},
 "encoding":{
  "x":{"field":"x","type":"quantitative","scale":{"domain":[0,360],"nice":false,"zero":false},"axis":null},
  "x2":{"field":"x2"},
  "y":{"field":"y","type":"quantitative","scale":{"domain":[0,1],"nice":false,"zero":false},"axis":null},
  "y2":{"field":"y2"}
 }},
{"data":{"name":"swC"},
 "mark":{"type":"rect","fill":null,"fillOpacity":0,"stroke":"#000","strokeWidth":1},
 "encoding":{
  "x":{"field":"x","type":"quantitative","scale":{"domain":[0,360],"nice":false,"zero":false},"axis":null},
  "x2":{"field":"x2"},
  "y":{"field":"y","type":"quantitative","scale":{"domain":[0,1],"nice":false,"zero":false},"axis":null},
  "y2":{"field":"y2"}
 }},
{"data":{"name":"legText"},
 "mark":{"type":"text","font":"Liberation Serif","fontSize":27,"color":"#000","align":"left","baseline":"middle","lineBreak":"\n","lineHeight":29},
 "encoding":{
  "x":{"field":"x","type":"quantitative","scale":{"domain":[0,360],"nice":false,"zero":false},"axis":null},
  "y":{"field":"y","type":"quantitative","scale":{"domain":[0,1],"nice":false,"zero":false},"axis":null},
  "text":{"field":"t"}
 }}
]
}
